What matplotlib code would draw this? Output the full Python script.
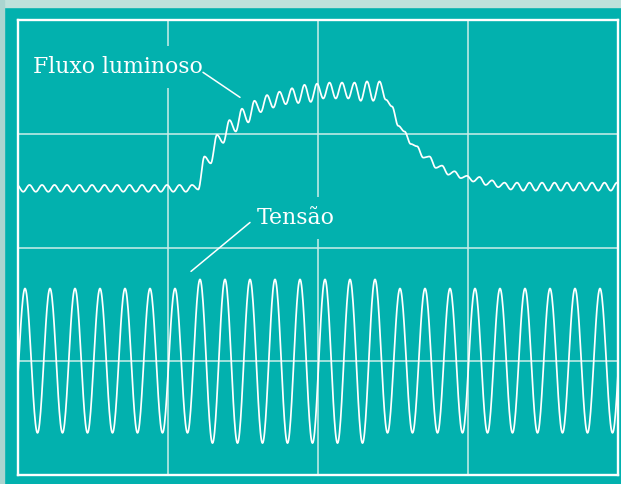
import numpy as np
import matplotlib
matplotlib.use("Agg")
import matplotlib.pyplot as plt
from matplotlib.patches import Rectangle

# Oscilloscope screen: time in mains cycles (6 per division), vertical in tenths of a division
periodo = 1.0

# Tensão: peaks and troughs of each cycle
tensao_t_pico = 0.28
tensao_pico = [16.4, 16.4, 16.4, 16.4, 16.4, 16.4, 16.4,
               17.2, 17.2, 17.2, 17.2, 17.2, 17.2, 17.2, 17.2,
               16.4, 16.4, 16.4, 16.4, 16.4, 16.4, 16.4, 16.4, 16.4, 16.4]
tensao_vale = [3.7, 3.7, 3.7, 3.7, 3.7, 3.7, 3.7, 3.7,
               2.8, 2.8, 2.8, 2.8, 2.8, 2.8, 2.8,
               3.7, 3.7, 3.7, 3.7, 3.7, 3.7, 3.7, 3.7, 3.7, 3.7]

# Fluxo luminoso: ripple at twice the mains frequency, crests and troughs
fluxo_t_crista = -0.04
fluxo_crista = [25.5, 25.5, 25.5, 25.5, 25.5, 25.5, 25.5, 25.5, 25.5, 25.5,
                25.5, 25.5, 25.5, 25.5, 25.5,
                28.0, 29.9, 31.2, 32.2, 32.9, 33.4, 33.7, 34.0, 34.3, 34.4,
                34.5, 34.5, 34.5, 34.6, 34.6,
                32.4, 30.2, 28.9, 28.0, 27.2, 26.7, 26.3, 26.2, 25.9,
                25.7, 25.7, 25.7, 25.7, 25.7, 25.7, 25.7, 25.7, 25.7, 25.7]
fluxo_vale = [24.9, 24.9, 24.9, 24.9, 24.9, 24.9, 24.9, 24.9, 24.9, 24.9,
              24.9, 24.9, 24.9, 24.9,
              25.1, 27.4, 29.2, 30.2, 31.0, 31.9, 32.3, 32.6, 32.7, 32.8,
              33.1, 33.1, 33.1, 32.9, 32.9,
              33.0, 30.7, 29.1, 27.9, 27.0, 26.4, 26.1, 25.8, 25.5, 25.3, 25.1,
              25.0, 25.0, 25.0, 25.0, 25.0, 25.0, 25.0, 25.0]

teal = "#02b1ae"
grade = "#cdeeea"


def traco(t0, meio, altos, baixos, altos_primeiro):
    # join alternating extremes with half-cosine arcs, like a sampled sine trace
    ys = []
    for i in range(max(len(altos), len(baixos))):
        par = (altos, baixos) if altos_primeiro else (baixos, altos)
        for lista in par:
            if i < len(lista):
                ys.append(lista[i])
    ts = t0 + meio * np.arange(len(ys))
    xs_out, ys_out = [], []
    s = np.linspace(0, 1, 25)
    for a in range(len(ys) - 1):
        xs_out.append(ts[a] + s * meio)
        ys_out.append(ys[a] + (ys[a + 1] - ys[a]) * (1 - np.cos(np.pi * s)) / 2)
    return np.concatenate(xs_out), np.concatenate(ys_out)


fig = plt.figure(figsize=(6.21, 4.84), dpi=100, facecolor=teal)
fig.patches.append(Rectangle((0, 1 - 7 / 484), 1, 7 / 484, transform=fig.transFigure,
                             color="#bfe1db", zorder=0))
fig.patches.append(Rectangle((0, 0), 4 / 621, 1, transform=fig.transFigure,
                             color="#abd5d0", zorder=0))

ax = fig.add_axes([18 / 621, 9 / 484, 600 / 621, 455 / 484])
ax.set_facecolor(teal)
ax.set_xlim(0, 24)
ax.set_ylim(0, 40)
ax.set_xticks([])
ax.set_yticks([])
for sp in ax.spines.values():
    sp.set_color("white")
    sp.set_linewidth(1.7)

for gx in [6, 12, 18]:
    ax.axvline(gx, color=grade, lw=1.1, zorder=1)
for gy in [10, 20, 30]:
    ax.axhline(gy, color=grade, lw=1.1, zorder=1)

# voltage trace
tx, ty = traco(tensao_t_pico - periodo / 2, periodo / 2, tensao_pico, tensao_vale, False)
ax.plot(tx, ty, color="white", lw=1.25, zorder=4, clip_on=True)

# light flux trace
fx, fy = traco(fluxo_t_crista, periodo / 4, fluxo_crista, fluxo_vale, True)
ax.plot(fx, fy, color="white", lw=1.25, zorder=4, clip_on=True)

caixa = dict(boxstyle="square,pad=0.45", fc=teal, ec="none")
ax.text(0.6, 35.9, "Fluxo luminoso", color="white", fontsize=15.8, family="DejaVu Serif",
        ha="left", va="center", bbox=caixa, zorder=3)
ax.text(9.56, 22.6, "Tensão", color="white", fontsize=15.8, family="DejaVu Serif",
        ha="left", va="center", bbox=caixa, zorder=3)

seta = dict(arrowstyle="-", color="white", lw=1.1, shrinkA=0, shrinkB=0)
ax.annotate("", xy=(8.88, 33.2), xytext=(7.4, 35.4), arrowprops=seta, zorder=5)
ax.annotate("", xy=(6.92, 17.9), xytext=(9.28, 22.2), arrowprops=seta, zorder=5)

fig.savefig("out.png", dpi=100, facecolor=teal)
